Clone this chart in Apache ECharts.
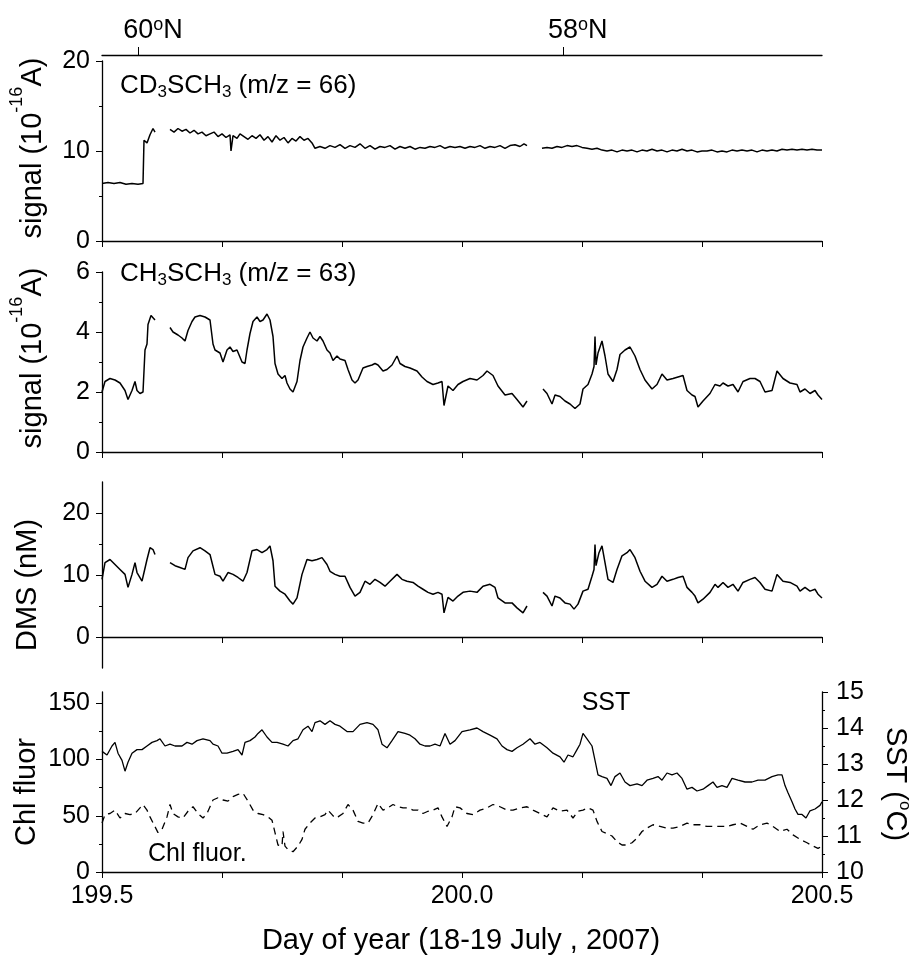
<!DOCTYPE html>
<html>
<head>
<meta charset="utf-8">
<style>html,body{margin:0;padding:0;background:#fff;}#c{width:911px;height:956px;}</style>
<script src="https://cdn.jsdelivr.net/npm/echarts@6/dist/echarts.min.js"></script>
</head>
<body>
<div id="c"></div>
<script>
// Time is given in minutes after day-of-year 199.5; null marks a data gap.
const cd3sch3 = [
[0,6.4],[12,6.5],[24,6.4],[36,6.5],[48,6.3],[60,6.4],[72,6.3],[82,6.4],[84,11.2],[90,10.9],[96,11.8],[102,12.5],[106,12.1],[120,null],
[136,12.4],[144,12.1],[152,12.5],[160,12.2],[168,12.4],[176,12.0],[184,12.3],[192,11.9],[200,12.1],[208,11.7],[216,11.9],[224,12.1],[232,11.6],[240,11.9],[248,11.5],[256,11.8],[258,10.0],[262,11.7],[270,11.4],[276,11.9],[284,11.6],[292,11.3],[300,11.7],[308,11.4],[316,11.8],[324,11.2],[332,11.6],[340,11.0],[348,11.7],[356,11.2],[364,11.5],[372,10.9],[380,11.4],[388,11.1],[396,11.6],[404,11.2],[412,11.4],[420,10.9],[426,10.3],[436,10.5],[446,10.3],[456,10.6],[466,10.4],[476,10.7],[486,10.3],[496,10.6],[506,10.4],[516,10.8],[526,10.3],[536,10.6],[546,10.2],[556,10.5],[566,10.4],[576,10.6],[586,10.2],[596,10.5],[606,10.3],[616,10.5],[626,10.2],[636,10.4],[646,10.3],[656,10.5],[666,10.4],[676,10.6],[686,10.3],[696,10.5],[706,10.4],[716,10.5],[726,10.3],[736,10.5],[746,10.4],[756,10.6],[766,10.3],[776,10.5],[786,10.4],[796,10.6],[806,10.3],[816,10.6],[826,10.7],[836,10.5],[844,10.8],[850,10.6],[864,null],
[880,10.3],[890,10.4],[900,10.3],[910,10.5],[920,10.4],[930,10.6],[940,10.5],[950,10.6],[960,10.4],[970,10.3],[980,10.2],[990,10.3],[1000,10.1],[1010,10.0],[1020,10.1],[1030,9.9],[1040,10.1],[1050,10.0],[1060,10.1],[1070,9.9],[1080,10.1],[1090,10.0],[1100,10.2],[1110,10.0],[1120,10.1],[1130,9.9],[1140,10.1],[1150,10.0],[1160,10.2],[1170,10.0],[1180,10.1],[1190,9.9],[1200,10.0],[1210,10.0],[1220,10.1],[1230,9.9],[1240,10.0],[1250,9.9],[1260,10.1],[1270,10.0],[1280,10.1],[1290,10.0],[1300,10.1],[1310,9.9],[1320,10.1],[1330,10.0],[1340,10.1],[1350,10.0],[1360,10.2],[1370,10.1],[1380,10.2],[1390,10.1],[1400,10.2],[1410,10.1],[1420,10.2],[1430,10.1],[1440,10.1]
];
const ch3sch3 = [
[0,2.0],[6,2.35],[16,2.45],[26,2.4],[36,2.3],[46,2.05],[52,1.75],[60,2.05],[66,2.35],[70,2.05],[76,1.95],[82,2.0],[86,3.4],[90,3.6],[92,4.25],[98,4.55],[102,4.6],[106,4.4],[120,null],
[136,4.15],[142,4.0],[152,3.9],[160,3.8],[166,3.7],[172,4.05],[180,4.35],[186,4.5],[196,4.55],[206,4.5],[216,4.4],[222,3.6],[226,3.4],[236,3.3],[242,3.0],[250,3.4],[256,3.5],[262,3.35],[270,3.4],[280,3.0],[286,2.95],[290,3.4],[296,3.95],[302,4.35],[310,4.5],[316,4.35],[322,4.4],[330,4.6],[336,4.4],[342,3.85],[346,2.95],[352,2.6],[360,2.45],[366,2.55],[370,2.3],[376,2.1],[382,2.0],[386,1.95],[390,2.35],[396,3.05],[402,3.5],[410,3.8],[416,4.0],[422,3.8],[430,3.7],[436,3.85],[442,3.7],[450,3.4],[456,3.3],[462,3.05],[470,3.2],[476,3.1],[486,3.05],[492,2.75],[500,2.4],[506,2.3],[512,2.4],[522,2.8],[530,2.85],[540,2.9],[546,2.95],[552,2.9],[562,2.7],[570,2.75],[580,2.9],[590,3.2],[596,2.95],[606,2.85],[616,2.8],[630,2.7],[640,2.5],[650,2.35],[662,2.25],[672,2.3],[680,2.35],[684,1.55],[692,2.2],[702,2.05],[712,2.25],[722,2.35],[736,2.45],[750,2.4],[762,2.55],[770,2.7],[782,2.55],[792,2.2],[806,1.9],[820,1.95],[830,1.75],[842,1.5],[850,1.7],[864,null],
[882,2.1],[890,1.95],[900,1.6],[906,1.9],[916,1.85],[926,1.7],[936,1.6],[946,1.45],[956,1.6],[962,2.1],[972,2.25],[980,2.6],[984,2.85],[986,3.85],[988,2.9],[992,3.3],[1000,3.7],[1006,3.2],[1012,2.6],[1022,2.35],[1030,2.75],[1036,3.25],[1046,3.4],[1056,3.5],[1066,3.2],[1076,2.75],[1086,2.4],[1100,2.1],[1110,2.25],[1120,2.6],[1130,2.4],[1142,2.45],[1152,2.5],[1162,2.55],[1170,2.05],[1180,1.9],[1186,1.85],[1192,1.5],[1202,1.7],[1216,1.95],[1226,2.25],[1236,2.2],[1242,2.3],[1252,2.2],[1262,2.25],[1272,2.0],[1282,2.35],[1296,2.45],[1306,2.45],[1316,2.35],[1326,2.0],[1340,2.05],[1350,2.7],[1362,2.45],[1376,2.3],[1390,2.25],[1396,2.0],[1406,2.1],[1416,1.95],[1426,2.05],[1432,1.9],[1440,1.75]
];
const dms = [
[0,9.3],[6,12.0],[16,12.5],[26,11.7],[36,10.9],[46,10.1],[52,8.0],[60,10.1],[66,12.0],[70,10.4],[80,9.0],[84,10.4],[90,12.5],[96,14.4],[102,14.1],[106,13.3],[120,null],
[136,12.0],[146,11.5],[156,11.2],[166,10.9],[172,12.8],[182,13.9],[196,14.4],[206,13.9],[216,13.3],[226,10.1],[236,9.8],[242,9.0],[252,10.4],[262,10.1],[272,9.6],[282,9.0],[290,10.4],[300,13.9],[310,14.1],[320,13.6],[330,14.1],[336,14.7],[342,12.3],[346,8.2],[356,7.4],[366,6.9],[376,5.8],[382,5.3],[390,6.3],[400,10.1],[410,12.5],[420,12.3],[430,12.5],[440,12.8],[450,11.7],[456,10.6],[466,10.1],[476,9.8],[486,9.8],[496,8.0],[506,6.6],[516,7.2],[526,9.0],[536,8.5],[546,9.3],[556,8.8],[566,8.2],[576,9.0],[590,10.1],[600,9.3],[610,9.0],[622,8.8],[632,8.2],[642,7.7],[652,7.2],[662,6.9],[672,7.2],[680,6.9],[684,3.9],[692,6.4],[702,5.8],[712,6.6],[722,7.2],[736,7.4],[750,7.2],[762,8.2],[776,8.5],[786,8.0],[792,6.3],[806,5.5],[820,5.5],[830,4.7],[842,3.9],[850,5.0],[864,null],
[882,7.2],[890,6.6],[900,5.0],[906,6.6],[916,6.3],[926,5.5],[936,5.3],[944,4.5],[952,5.3],[962,7.4],[972,7.7],[980,9.8],[984,10.9],[986,14.9],[988,11.5],[994,13.6],[1000,14.7],[1006,12.0],[1012,9.3],[1022,8.8],[1030,10.9],[1040,13.1],[1050,13.6],[1056,14.1],[1066,12.8],[1076,10.6],[1086,9.0],[1100,8.0],[1110,8.5],[1120,9.8],[1130,9.0],[1142,9.3],[1152,9.6],[1162,9.8],[1170,8.0],[1180,7.2],[1186,6.6],[1192,5.5],[1202,6.1],[1216,7.2],[1226,8.5],[1232,8.0],[1242,8.8],[1252,8.0],[1262,8.5],[1272,7.4],[1282,8.8],[1296,9.3],[1306,9.6],[1316,8.8],[1326,7.7],[1340,7.4],[1350,10.1],[1362,9.0],[1376,8.8],[1390,8.2],[1396,7.4],[1406,8.0],[1416,7.4],[1426,7.7],[1432,6.9],[1440,6.3]
];
const sst = [
[0,13.35],[10,13.25],[20,13.5],[26,13.6],[32,13.3],[40,13.1],[46,12.8],[52,13.05],[60,13.3],[70,13.4],[80,13.4],[90,13.5],[100,13.6],[110,13.65],[116,13.7],[126,13.5],[136,13.55],[146,13.5],[160,13.5],[170,13.6],[180,13.55],[190,13.65],[202,13.7],[216,13.65],[222,13.55],[232,13.5],[240,13.3],[250,13.3],[262,13.35],[272,13.4],[280,13.25],[286,13.6],[296,13.65],[306,13.75],[312,13.85],[320,13.95],[330,13.75],[340,13.6],[350,13.6],[362,13.55],[372,13.5],[382,13.65],[392,13.7],[402,13.95],[412,14.05],[420,13.9],[426,14.15],[436,14.2],[446,14.1],[456,14.2],[466,14.1],[476,14.05],[490,13.9],[502,13.9],[516,14.1],[530,14.15],[542,14.1],[552,13.95],[560,13.55],[570,13.45],[580,13.65],[592,13.9],[606,13.85],[616,13.8],[626,13.7],[636,13.55],[646,13.5],[656,13.5],[666,13.55],[676,13.5],[686,13.85],[696,13.55],[706,13.65],[720,13.9],[736,13.95],[750,14.0],[762,13.9],[776,13.8],[790,13.7],[800,13.5],[810,13.4],[820,13.35],[830,13.45],[842,13.55],[856,13.7],[866,13.55],[876,13.6],[890,13.45],[902,13.3],[916,13.2],[924,13.05],[932,13.25],[942,13.2],[950,13.4],[956,13.55],[962,13.85],[970,13.7],[980,13.5],[986,13.1],[992,12.7],[1000,12.65],[1010,12.6],[1018,12.4],[1026,12.65],[1036,12.75],[1046,12.5],[1056,12.4],[1070,12.45],[1080,12.4],[1090,12.55],[1102,12.6],[1112,12.65],[1120,12.55],[1130,12.75],[1140,12.7],[1150,12.75],[1160,12.6],[1170,12.3],[1180,12.35],[1190,12.25],[1202,12.3],[1212,12.4],[1222,12.5],[1230,12.35],[1240,12.4],[1250,12.35],[1260,12.6],[1272,12.55],[1286,12.5],[1300,12.5],[1312,12.55],[1326,12.55],[1340,12.65],[1352,12.7],[1360,12.7],[1366,12.4],[1372,12.2],[1380,11.95],[1386,11.75],[1392,11.6],[1400,11.6],[1408,11.5],[1416,11.7],[1426,11.75],[1436,11.85],[1440,11.95]
];
const chlFluor = [
[0,43.5],[6,51],[16,52],[26,55],[36,48],[46,52],[56,51],[66,52],[76,57],[82,60],[90,55],[96,49],[104,42],[112,35],[120,38],[130,49],[136,60],[142,52],[152,49],[162,48],[172,54],[182,58],[192,52],[202,48],[210,52],[216,58],[222,64],[232,66],[242,64],[252,63],[262,67],[272,69],[282,70],[292,63],[302,55],[312,52],[322,51],[332,49],[340,46],[346,35],[352,24],[360,23],[362,36],[366,23],[372,20],[382,18],[392,23],[400,29],[406,38],[416,43.5],[426,48],[436,49],[446,51],[452,55],[460,51],[466,48],[472,49],[482,52],[492,60],[502,55],[512,45],[522,43.5],[532,43.5],[542,51],[552,61],[562,55],[572,57],[582,60],[592,58],[602,57],[612,57],[622,55],[632,55],[642,52],[652,54],[662,55],[672,57],[680,49],[690,40.5],[700,49],[706,58],[716,57],[730,52],[742,51],[756,55],[770,57],[782,60],[796,58],[810,55],[822,55],[836,57],[850,58],[862,55],[876,52],[890,49],[902,57],[916,54],[930,55],[942,48],[952,54],[962,55],[972,57],[982,55],[990,45],[1000,36],[1010,34],[1020,32],[1030,27],[1040,24],[1050,24],[1060,26],[1070,30],[1080,36],[1090,39],[1102,42],[1116,40.5],[1130,39],[1142,39],[1156,40.5],[1170,43.5],[1182,42],[1196,42],[1210,40.5],[1222,40.5],[1236,40.5],[1250,40.5],[1262,42],[1276,43.5],[1290,40.5],[1302,38],[1316,42],[1330,43.5],[1342,40.5],[1356,36],[1370,38],[1382,33],[1396,29],[1410,26],[1422,23],[1432,21],[1440,23]
];
// Latitude marks on the top axis (day of year) and their labels
const latTicks = [199.55, 200.14];
const latLabels = ['60', '58'];
// Day-of-year axis
const dayMin = 199.5, dayMax = 200.5, dayStep = 1 / 6;
// Tick values for the y axes
const dmsMajor = [0, 10, 20], dmsMinor = [5, 15];
const chlMajor = [0, 50, 100, 150], chlMinor = [25, 75, 125];

const FONT = "'Liberation Sans', Arial, Helvetica, sans-serif";
const toDay = arr => arr.map(p => [dayMin + p[0] / 1440, p[1]]);

const grids = [
  {left: 102, right: 89, top: 61, height: 180},
  {left: 102, right: 89, top: 272, height: 180},
  {left: 102, right: 89, top: 482, height: 186},
  {left: 102, right: 89, top: 692, height: 180}
].map(g => Object.assign({outerBoundsMode: 'none', containLabel: false}, g));

const lineAx = {show: true, lineStyle: {color: '#000', width: 1.3}};
const tickAx = (len) => ({show: true, length: len, inside: false, lineStyle: {color: '#000', width: 1}});

function dayAxis(gridIndex, showLabels) {
  return {
    type: 'value', gridIndex, position: 'bottom', min: dayMin, max: dayMax, interval: dayStep,
    axisLine: lineAx, axisTick: tickAx(6), splitLine: {show: false},
    axisLabel: {
      show: showLabels, margin: 12, color: '#000', fontFamily: FONT, fontSize: 25,
      showMinLabel: true, showMaxLabel: true,
      formatter: v => {
        const h = v * 2;
        return Math.abs(h - Math.round(h)) < 1e-3 ? (Math.round(h) / 2).toFixed(1) : '';
      }
    }
  };
}

const yLabel = {color: '#000', fontFamily: FONT, fontSize: 25, margin: 12};

const option = {
  animation: false,
  backgroundColor: '#fff',
  grid: grids,
  xAxis: [
    dayAxis(0, false),
    {
      type: 'value', gridIndex: 0, position: 'top', offset: 6, min: dayMin, max: dayMax,
      axisLine: lineAx, splitLine: {show: false},
      axisTick: Object.assign(tickAx(8), {customValues: latTicks}),
      axisLabel: {
        show: true, customValues: latTicks, margin: 9, color: '#000',
        fontFamily: FONT, fontSize: 27, lineHeight: 30,
        padding: [0, 0, 0, 30],
        formatter: v => {
          let i = 0, best = 1e9;
          latTicks.forEach((t, k) => { if (Math.abs(t - v) < best) { best = Math.abs(t - v); i = k; } });
          return latLabels[i] + '{sup|o}N';
        },
        rich: {
          sup: {fontFamily: FONT, fontSize: 18, lineHeight: 30, verticalAlign: 'top', color: '#000'}
        }
      }
    },
    dayAxis(1, false),
    dayAxis(2, false),
    dayAxis(3, true)
  ],
  yAxis: [
    {type: 'value', gridIndex: 0, min: 0, max: 20, interval: 10, axisLine: lineAx, axisTick: tickAx(6),
     minorTick: {show: true, splitNumber: 2, length: 3, lineStyle: {color: '#000', width: 1}},
     splitLine: {show: false}, minorSplitLine: {show: false}, axisLabel: yLabel},
    {type: 'value', gridIndex: 1, min: 0, max: 6, interval: 2, axisLine: lineAx, axisTick: tickAx(6),
     minorTick: {show: true, splitNumber: 2, length: 3, lineStyle: {color: '#000', width: 1}},
     splitLine: {show: false}, minorSplitLine: {show: false}, axisLabel: yLabel},
    {type: 'value', gridIndex: 2, min: -5, max: 25, axisLine: lineAx,
     axisTick: Object.assign(tickAx(6), {customValues: dmsMajor}),
     splitLine: {show: false}, axisLabel: Object.assign({customValues: dmsMajor}, yLabel)},
    {type: 'value', gridIndex: 2, position: 'left', min: -5, max: 25, axisLine: {show: false},
     axisTick: Object.assign(tickAx(3), {customValues: dmsMinor}),
     splitLine: {show: false}, axisLabel: {show: false}},
    {type: 'value', gridIndex: 3, position: 'left', min: 0, max: 160, axisLine: lineAx,
     axisTick: Object.assign(tickAx(6), {customValues: chlMajor}),
     splitLine: {show: false}, axisLabel: Object.assign({customValues: chlMajor}, yLabel)},
    {type: 'value', gridIndex: 3, position: 'left', min: 0, max: 160, axisLine: {show: false},
     axisTick: Object.assign(tickAx(3), {customValues: chlMinor}),
     splitLine: {show: false}, axisLabel: {show: false}},
    {type: 'value', gridIndex: 3, position: 'right', min: 10, max: 15, interval: 1, axisLine: lineAx,
     axisTick: tickAx(6),
     minorTick: {show: true, splitNumber: 2, length: 3, lineStyle: {color: '#000', width: 1}},
     splitLine: {show: false}, minorSplitLine: {show: false},
     axisLabel: {color: '#000', fontFamily: FONT, fontSize: 25, margin: 14}}
  ],
  series: [
    {name: 'CD3SCH3', type: 'line', xAxisIndex: 0, yAxisIndex: 0, data: toDay(cd3sch3)},
    {name: 'CH3SCH3', type: 'line', xAxisIndex: 2, yAxisIndex: 1, data: toDay(ch3sch3)},
    {name: 'DMS', type: 'line', xAxisIndex: 3, yAxisIndex: 2, data: toDay(dms)},
    {name: 'SST', type: 'line', xAxisIndex: 4, yAxisIndex: 6, data: toDay(sst), lineStyle: {color: '#000', width: 1.3}},
    {name: 'Chl fluor.', type: 'line', xAxisIndex: 4, yAxisIndex: 4, data: toDay(chlFluor),
     lineStyle: {type: [7, 5], color: '#000', width: 1.3}}
  ].map(s => Object.assign({
    symbol: 'none', showSymbol: false, connectNulls: false, silent: true,
    lineStyle: {color: '#000', width: 1.5}
  }, s)),
  graphic: [
    {type: 'text', x: 33, y: 148, rotation: Math.PI / 2, style: {
      text: '{b|signal (10}{sup|-16}{b|A)}', align: 'center', verticalAlign: 'middle', fill: '#000',
      rich: {b: {fontFamily: FONT, fontSize: 29, lineHeight: 50, verticalAlign: 'middle', fill: '#000'},
             sup: {fontFamily: FONT, fontSize: 18, lineHeight: 50, verticalAlign: 'top', fill: '#000'}}}},
    {type: 'text', x: 33, y: 358, rotation: Math.PI / 2, style: {
      text: '{b|signal (10}{sup|-16}{b|A)}', align: 'center', verticalAlign: 'middle', fill: '#000',
      rich: {b: {fontFamily: FONT, fontSize: 29, lineHeight: 50, verticalAlign: 'middle', fill: '#000'},
             sup: {fontFamily: FONT, fontSize: 18, lineHeight: 50, verticalAlign: 'top', fill: '#000'}}}},
    {type: 'text', x: 28, y: 585, rotation: Math.PI / 2, style: {
      text: 'DMS (nM)', align: 'center', verticalAlign: 'middle', fill: '#000', fontFamily: FONT, fontSize: 29}},
    {type: 'text', x: 27, y: 792, rotation: Math.PI / 2, style: {
      text: 'Chl fluor', align: 'center', verticalAlign: 'middle', fill: '#000', fontFamily: FONT, fontSize: 29}},
    {type: 'text', x: 895, y: 784, rotation: -Math.PI / 2, style: {
      text: '{b|SST (}{sup|o}{b|C)}', align: 'center', verticalAlign: 'middle', fill: '#000',
      rich: {b: {fontFamily: FONT, fontSize: 29, lineHeight: 36, verticalAlign: 'middle', fill: '#000'},
             sup: {fontFamily: FONT, fontSize: 17, lineHeight: 36, verticalAlign: 'top', fill: '#000'}}}},
    {type: 'text', x: 461, y: 941, style: {
      text: 'Day of year (18-19 July , 2007)', align: 'center', verticalAlign: 'middle', fill: '#000',
      fontFamily: FONT, fontSize: 29}},
    {type: 'text', x: 120, y: 86, style: {
      text: '{b|CD}{sub|3}{b|SCH}{sub|3}{b| (m/z = 66)}', align: 'left', verticalAlign: 'middle', fill: '#000',
      rich: {b: {fontFamily: FONT, fontSize: 26, lineHeight: 30, verticalAlign: 'middle', fill: '#000'},
             sub: {fontFamily: FONT, fontSize: 17, lineHeight: 30, verticalAlign: 'bottom', fill: '#000'}}}},
    {type: 'text', x: 120, y: 274, style: {
      text: '{b|CH}{sub|3}{b|SCH}{sub|3}{b| (m/z = 63)}', align: 'left', verticalAlign: 'middle', fill: '#000',
      rich: {b: {fontFamily: FONT, fontSize: 26, lineHeight: 30, verticalAlign: 'middle', fill: '#000'},
             sub: {fontFamily: FONT, fontSize: 17, lineHeight: 30, verticalAlign: 'bottom', fill: '#000'}}}},
    {type: 'text', x: 606, y: 703, style: {
      text: 'SST', align: 'center', verticalAlign: 'middle', fill: '#000', fontFamily: FONT, fontSize: 25}},
    {type: 'text', x: 148, y: 854, style: {
      text: 'Chl fluor.', align: 'left', verticalAlign: 'middle', fill: '#000', fontFamily: FONT, fontSize: 25}}
  ]
};

const chart = echarts.init(document.getElementById('c'), null, {renderer: 'canvas'});
chart.setOption(option);
</script>
</body>
</html>
